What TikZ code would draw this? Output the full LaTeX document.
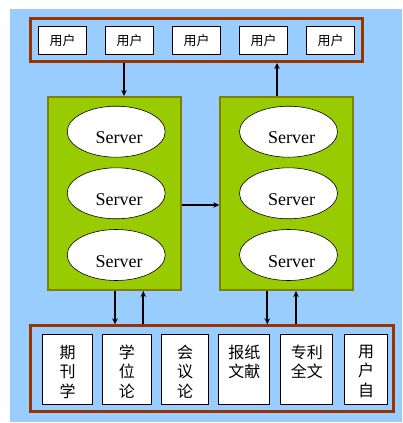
\documentclass[tikz,border=0pt]{standalone}
\usepackage{fontspec}
\setmainfont{Liberation Serif}
\newfontfamily\cjk{Noto Sans CJK SC}
\usepackage{xcolor}
\usetikzlibrary{shapes.geometric, arrows.meta, positioning}
\definecolor{skyblue}{HTML}{99CCFF}
\definecolor{rust}{HTML}{993300}
\definecolor{leaf}{HTML}{99CC00}
\definecolor{mossline}{HTML}{808000}
\tikzset{
  group/.style={draw=rust, line width=3pt},
  user/.style={draw, fill=white, line width=0.8pt, minimum width=48pt, minimum height=28pt,
    inner sep=0pt, font=\cjk\fontsize{13}{15}\selectfont},
  cluster/.style={draw=mossline, fill=leaf, line width=2pt, minimum width=133pt, minimum height=193pt},
  srv/.style={ellipse, draw, fill=white, line width=0.6pt, minimum width=98pt, minimum height=51pt,
    inner sep=0pt, text height=24pt, text depth=0pt, execute at begin node=\hspace*{6pt},
    font=\fontsize{18}{20}\selectfont},
  doc/.style={draw, fill=white, line width=0.8pt, minimum height=70pt, inner sep=0pt},
  doctext/.style={anchor=north, align=center, inner sep=0pt, font=\cjk\fontsize{16}{19.5}\selectfont},
  flow/.style={-{Stealth[length=6pt,width=5.5pt]}, line width=1.8pt},
}

\begin{document}
\begin{tikzpicture}[x=1pt, y=-1pt]
    \useasboundingbox (0,0) rectangle (402,423);
    \fill[skyblue] (10,9) rectangle (402,422);

    % users on top
    \node[group, minimum width=332pt, minimum height=43pt] (top) at (196.5,40) {};
    \node[user] (u1) at (62.5,40.5) {用户};
    \node[user] (u2) at (129.5,40.5) {用户};
    \node[user] (u3) at (196.5,40.5) {用户};
    \node[user] (u4) at (263.5,40.5) {用户};
    \node[user] (u5) at (330.5,40.5) {用户};

    % two server groups
    \node[cluster] (left) at (114.8,193.5) {};
    \node[srv] (s1) at (116.2,131.7) {Server};
    \node[srv] (s2) at (116.2,193.3) {Server};
    \node[srv] (s3) at (116.2,255) {Server};

    \node[cluster] (right) at (286.8,193.5) {};
    \node[srv] (s4) at (288.5,131.7) {Server};
    \node[srv] (s5) at (288.5,193.3) {Server};
    \node[srv] (s6) at (288.5,255) {Server};

    % databases at the bottom
    \node[group, minimum width=363pt, minimum height=86pt] (bottom) at (212,368.8) {};
    \node[doc, minimum width=49.4pt] (d1) at (67.5,369.7) {};
    \node[doc, minimum width=48.7pt] (d2) at (126.8,369.7) {};
    \node[doc, minimum width=46.7pt] (d3) at (185.2,369.7) {};
    \node[doc, minimum width=51pt] (d4) at (244.3,369.7) {};
    \node[doc, minimum width=52pt] (d5) at (306.8,369.7) {};
    \node[doc, minimum width=43.3pt] (d6) at (366.2,369.7) {};

    \node[doctext] (t1) at ([yshift=-10.3pt]d1.north) {期\\刊\\学};
    \node[doctext] (t2) at ([yshift=-10.3pt]d2.north) {学\\位\\论};
    \node[doctext] (t3) at ([yshift=-10.3pt]d3.north) {会\\议\\论};
    \node[doctext] (t4) at ([yshift=-10.3pt]d4.north) {报纸\\文献};
    \node[doctext] (t5) at ([yshift=-10.3pt]d5.north) {专利\\全文};
    \node[doctext] (t6) at ([yshift=-10.3pt]d6.north) {用\\户\\自};

    \draw[flow] (top.south -| 124,0) -- (left.north -| 124,0);
    \draw[flow] (right.north -| 277,0) -- (top.south -| 277,0);
    \draw[flow] ([yshift=-11.5pt]left.east) -- ([yshift=-11.5pt]right.west);
    \draw[flow] (left.south -| 115,0) -- (bottom.north -| 115,0);
    \draw[flow] (bottom.north -| 143.3,0) -- (left.south -| 143.3,0);
    \draw[flow] (right.south -| 267.3,0) -- (bottom.north -| 267.3,0);
    \draw[flow] (bottom.north -| 296,0) -- (right.south -| 296,0);
\end{tikzpicture}
\end{document}
